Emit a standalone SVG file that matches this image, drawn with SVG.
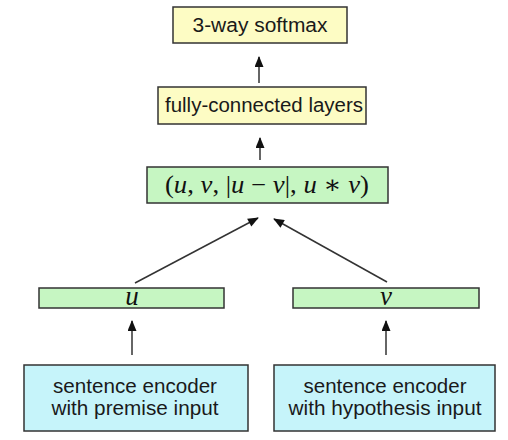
<svg xmlns="http://www.w3.org/2000/svg" width="508" height="440" viewBox="0 0 508 440">
<defs>
<style>
.box{stroke:#333;stroke-width:1.5}
.y{fill:#fdfcc4}
.g{fill:#c6f6c2}
.c{fill:#c6f4fa}
.t{font-family:"Liberation Sans",Arial,sans-serif;font-size:20px;fill:#1a1a1a;text-anchor:middle}
.m{font-family:"Liberation Serif","DejaVu Serif",serif;fill:#111;text-anchor:middle}
.i{font-style:italic}
.e{stroke:#333;stroke-width:1.5;fill:none;marker-end:url(#ah)}
</style>
<marker id="ah" viewBox="0 0 12 10" refX="11" refY="5" markerWidth="12" markerHeight="9" markerUnits="userSpaceOnUse" orient="auto">
<path d="M0,0 L12,5 L0,10 z" fill="#111"/>
</marker>
</defs>
<rect width="508" height="440" fill="#fff"/>
<g id="softmax"><rect class="box y" x="173" y="7" width="174" height="36"/><text class="t" x="260" y="32" textLength="135" lengthAdjust="spacingAndGlyphs">3-way softmax</text></g>
<g id="fc"><rect class="box y" x="158" y="87" width="208" height="37"/><text class="t" x="264" y="112" textLength="198" lengthAdjust="spacingAndGlyphs">fully-connected layers</text></g>
<g id="concat"><rect class="box g" x="147" y="167" width="241" height="36"/><text class="m" x="267" y="193" font-size="25" textLength="204" lengthAdjust="spacingAndGlyphs">(<tspan class="i">u</tspan>, <tspan class="i">v</tspan>, |<tspan class="i">u</tspan> − <tspan class="i">v</tspan>|, <tspan class="i">u</tspan> ∗ <tspan class="i">v</tspan>)</text></g>
<g id="u"><rect class="box g" x="39" y="288" width="185" height="20"/><text class="m i" x="132" y="305" font-size="27">u</text></g>
<g id="v"><rect class="box g" x="293" y="288" width="186" height="20"/><text class="m i" x="386" y="305" font-size="27">v</text></g>
<g id="premise"><rect class="box c" x="24" y="365" width="224" height="66"/><text class="t" x="135" y="393" textLength="164" lengthAdjust="spacingAndGlyphs">sentence encoder</text><text class="t" x="135" y="415" textLength="167" lengthAdjust="spacingAndGlyphs">with premise input</text></g>
<g id="hypothesis"><rect class="box c" x="274" y="365" width="221" height="66"/><text class="t" x="385" y="393" textLength="163" lengthAdjust="spacingAndGlyphs">sentence encoder</text><text class="t" x="385" y="415" textLength="193" lengthAdjust="spacingAndGlyphs">with hypothesis input</text></g>
<g id="connectors">
<line class="e" x1="259" y1="83" x2="259" y2="57"/>
<line class="e" x1="260" y1="160" x2="260" y2="138"/>
<line class="e" x1="135" y1="283" x2="258" y2="218"/>
<line class="e" x1="387" y1="282" x2="274" y2="219"/>
<line class="e" x1="132" y1="355" x2="132" y2="321"/>
<line class="e" x1="386" y1="355" x2="386" y2="321"/>
</g>
</svg>
